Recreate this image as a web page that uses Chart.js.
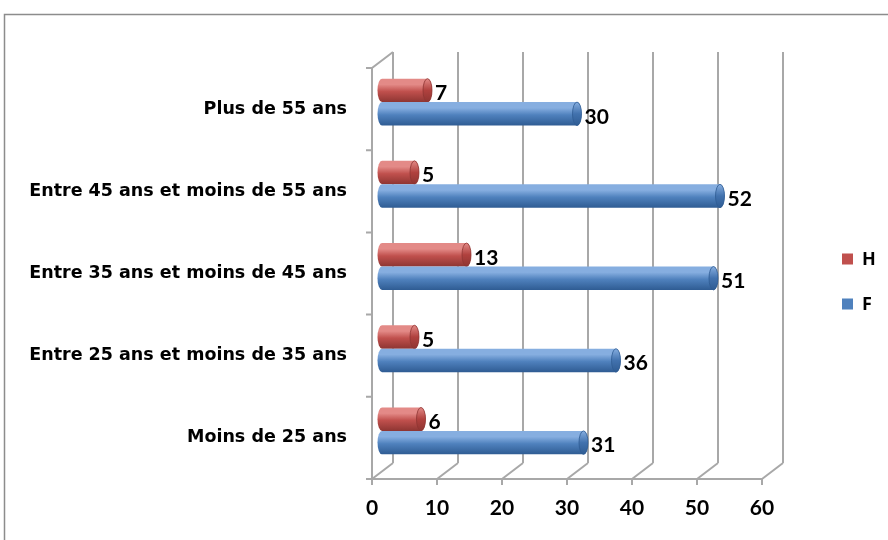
<!DOCTYPE html>
<html>
<head>
<meta charset="utf-8">
<script src="https://cdn.jsdelivr.net/npm/chart.js@4/dist/chart.umd.min.js"></script>
<style>
  html, body { margin: 0; padding: 0; background: #ffffff; }
  #wrap { position: relative; width: 888px; height: 540px; }
</style>
</head>
<body>
<div id="wrap"><canvas id="chart" width="888" height="540"></canvas></div>
<script>
// Age groups, top to bottom
const categories = [
  'Plus de 55 ans',
  'Entre 45 ans et moins de 55 ans',
  'Entre 35 ans et moins de 45 ans',
  'Entre 25 ans et moins de 35 ans',
  'Moins de 25 ans'
];
const seriesH = [7, 5, 13, 5, 6];
const seriesF = [30, 52, 51, 36, 31];
const seriesNames = ['H', 'F'];
const xMin = 0, xMax = 60, xStep = 10;

const colors = {
  H: { base: '#C0504D', light: '#E38A87', dark: '#8E3532', cap: '#B0413E' },
  F: { base: '#4F81BD', light: '#86AEE0', dark: '#2F5C93', cap: '#4272AE' }
};

// 3D depth: back wall offset and mid-depth offset for the cylinders
const DEPTH_X = 21, DEPTH_Y = -16;
const MID_X = 10, MID_Y = -7;
const GRID = '#a8a8a8';

const frame3d = {
  id: 'frame3d',
  beforeDraw(chart) {
    const ctx = chart.ctx;
    const { top, bottom } = chart.chartArea;
    const xs = chart.scales.x;
    ctx.save();
    // outer frame
    ctx.strokeStyle = '#8c8c8c';
    ctx.lineWidth = 1.5;
    ctx.beginPath();
    ctx.moveTo(4.5, 600);
    ctx.lineTo(4.5, 14.5);
    ctx.lineTo(900, 14.5);
    ctx.stroke();

    ctx.strokeStyle = GRID;
    ctx.lineWidth = 2;
    ctx.beginPath();
    for (let v = xMin; v <= xMax; v += xStep) {
      const px = xs.getPixelForValue(v);
      // back wall gridline
      ctx.moveTo(px + DEPTH_X, bottom + DEPTH_Y);
      ctx.lineTo(px + DEPTH_X, top + DEPTH_Y);
      // floor diagonal
      ctx.moveTo(px, bottom);
      ctx.lineTo(px + DEPTH_X, bottom + DEPTH_Y);
      // tick below the floor edge
      ctx.moveTo(px, bottom);
      ctx.lineTo(px, bottom + 6);
    }
    // floor front edge
    ctx.moveTo(xs.getPixelForValue(xMin), bottom);
    ctx.lineTo(xs.getPixelForValue(xMax), bottom);
    // side wall front edge and top
    const x0 = xs.getPixelForValue(xMin);
    ctx.moveTo(x0, bottom);
    ctx.lineTo(x0, top);
    ctx.lineTo(x0 + DEPTH_X, top + DEPTH_Y);
    // category boundary ticks
    const n = categories.length;
    const band = (bottom - top) / n;
    for (let i = 0; i <= n; i++) {
      const y = top + band * i;
      ctx.moveTo(x0 - 6, y);
      ctx.lineTo(x0, y);
    }
    ctx.stroke();
    ctx.restore();
  },
  afterDatasetsDraw(chart) {
    const ctx = chart.ctx;
    ctx.save();
    chart.data.datasets.forEach((ds, di) => {
      const meta = chart.getDatasetMeta(di);
      const c = colors[ds.label];
      meta.data.forEach((bar, i) => {
        const h = bar.height;
        const x1 = bar.base + MID_X;
        const x2 = bar.x + MID_X;
        const yc = bar.y + MID_Y;
        const yt = yc - h / 2, yb = yc + h / 2;
        const rx = 4.5, ry = h / 2;
        const g = ctx.createLinearGradient(0, yt, 0, yb);
        g.addColorStop(0, c.light);
        g.addColorStop(0.25, c.light);
        g.addColorStop(0.55, c.base);
        g.addColorStop(1, c.dark);
        // cylinder body with rounded back end
        ctx.beginPath();
        ctx.moveTo(x2, yt);
        ctx.lineTo(x1, yt);
        ctx.ellipse(x1, yc, rx, ry, 0, -Math.PI / 2, Math.PI / 2, true);
        ctx.lineTo(x2, yb);
        ctx.ellipse(x2, yc, rx, ry, 0, Math.PI / 2, -Math.PI / 2, true);
        ctx.closePath();
        ctx.fillStyle = g;
        ctx.fill();
        // end face
        const gc = ctx.createLinearGradient(0, yt, 0, yb);
        gc.addColorStop(0, c.light);
        gc.addColorStop(0.5, c.cap);
        gc.addColorStop(1, c.dark);
        ctx.beginPath();
        ctx.ellipse(x2, yc, rx, ry, 0, 0, Math.PI * 2);
        ctx.fillStyle = gc;
        ctx.fill();
        ctx.strokeStyle = c.dark;
        ctx.lineWidth = 0.8;
        ctx.stroke();
        // value label
        ctx.fillStyle = '#000000';
        ctx.font = 'bold 21px Lato';
        ctx.textAlign = 'left';
        ctx.textBaseline = 'middle';
        ctx.fillText(String(ds.data[i]), x2 + rx + 3, yc + 3);
      });
    });
    // legend
    const lx = 842;
    const ly = [259, 304];
    chart.data.datasets.forEach((ds, di) => {
      ctx.fillStyle = colors[ds.label].base;
      ctx.fillRect(lx, ly[di] - 5.5, 11, 11);
      ctx.fillStyle = '#000000';
      ctx.font = 'bold 18px "Open Sans"';
      ctx.textAlign = 'left';
      ctx.textBaseline = 'middle';
      ctx.fillText(ds.label, lx + 20, ly[di] + 1);
    });
    ctx.restore();
  }
};

new Chart(document.getElementById('chart'), {
  type: 'bar',
  data: {
    labels: categories,
    datasets: [
      { label: seriesNames[0], data: seriesH, backgroundColor: 'rgba(0,0,0,0)', categoryPercentage: 0.57, barPercentage: 1 },
      { label: seriesNames[1], data: seriesF, backgroundColor: 'rgba(0,0,0,0)', categoryPercentage: 0.57, barPercentage: 1 }
    ]
  },
  options: {
    indexAxis: 'y',
    responsive: false,
    animation: false,
    layout: { padding: { top: 68, right: 126, left: 0, bottom: 0 } },
    plugins: { legend: { display: false }, tooltip: { enabled: false } },
    scales: {
      x: {
        min: xMin, max: xMax,
        ticks: { stepSize: xStep, color: '#000', font: { family: 'Lato', weight: 'bold', size: 21 }, padding: 17 },
        grid: { display: false, drawTicks: false },
        border: { display: false },
        afterFit(s) { s.height = 61; }
      },
      y: {
        ticks: { color: '#000', font: { family: 'DejaVu Sans', weight: 'bold', size: 17.5 }, padding: 25 },
        grid: { display: false, drawTicks: false },
        border: { display: false },
        afterFit(s) { s.width = 372; }
      }
    }
  },
  plugins: [frame3d]
});
</script>
</body>
</html>
